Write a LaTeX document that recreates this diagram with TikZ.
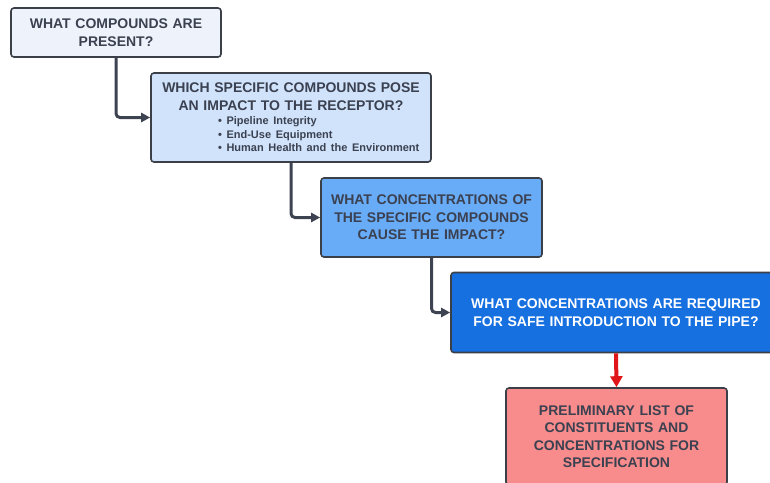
\documentclass[tikz,border=0pt]{standalone}
\usepackage{fontspec}
\setmainfont{Liberation Sans}
\usetikzlibrary{arrows.meta}

\definecolor{ink}{HTML}{3B4150}
\definecolor{edge}{HTML}{3A3F48}
\definecolor{wire}{HTML}{3D4350}
\definecolor{fillA}{HTML}{EEF3FB}
\definecolor{fillB}{HTML}{D0E3FB}
\definecolor{fillC}{HTML}{68ABF7}
\definecolor{fillD}{HTML}{1670E0}
\definecolor{fillE}{HTML}{F88C8C}
\definecolor{alert}{HTML}{E0161B}

\newcommand{\bulletline}[1]{\hspace*{50pt}\makebox[196pt][l]{\fontsize{11}{13.5}\selectfont • #1}}

\tikzset{
  qbox/.style={draw=edge, line width=1.6pt, rounded corners=3pt, inner sep=0pt,
    align=center, text=ink, font=\bfseries\fontsize{14}{17.5}\selectfont},
  conn/.style={draw=wire, line width=3pt, rounded corners=4pt,
    -{Triangle[length=9pt,width=9pt]}},
  redarrow/.style={draw=alert, line width=4pt,
    -{Triangle[length=11pt,width=12pt]}},
}

\begin{document}
\begin{tikzpicture}[x=1pt,y=-1pt]
  \fill[white] (0,0) rectangle (770,482);
  \useasboundingbox (0,0) rectangle (770,482);
  \clip (0,0) rectangle (770,482);

  % question boxes, one step lower and further right each time
  \node[qbox, fill=fillA, minimum width=210pt, text width=200pt, minimum height=49pt]
    (b1) at (116,32.5) {WHAT COMPOUNDS ARE\\PRESENT?};

  \node[qbox, fill=fillB, minimum width=280pt, text width=270pt, minimum height=89pt]
    (b2) at (291,117.5) {WHICH SPECIFIC COMPOUNDS POSE\\AN IMPACT TO THE RECEPTOR?\\[-3pt]
    \bulletline{Pipeline Integrity}\\[-4pt]
    \bulletline{End-Use Equipment}\\[-4pt]
    \bulletline{Human Health and the Environment}};

  \node[qbox, fill=fillC, minimum width=221pt, text width=211pt, minimum height=79pt]
    (b3) at (431.5,217.5) {WHAT CONCENTRATIONS OF\\THE SPECIFIC COMPOUNDS\\CAUSE THE IMPACT?};

  \node[qbox, fill=fillD, text=white, minimum width=330pt, text width=320pt, minimum height=80pt]
    (b4) at (616,312.5) {WHAT CONCENTRATIONS ARE REQUIRED\\FOR SAFE INTRODUCTION TO THE PIPE?};

  \node[qbox, fill=fillE, minimum width=221pt, text width=211pt, minimum height=97pt]
    (b5) at (616.5,436.5) {PRELIMINARY LIST OF\\CONSTITUENTS AND\\CONCENTRATIONS FOR\\SPECIFICATION};

  % elbow connectors
  \draw[conn] (b1.south) |- (b2.west);
  \draw[conn] (b2.south) |- (b3.west);
  \draw[conn] (b3.south) |- (b4.west);

  % final step
  \draw[redarrow] (b4.south) -- (b5.north);
\end{tikzpicture}
\end{document}
